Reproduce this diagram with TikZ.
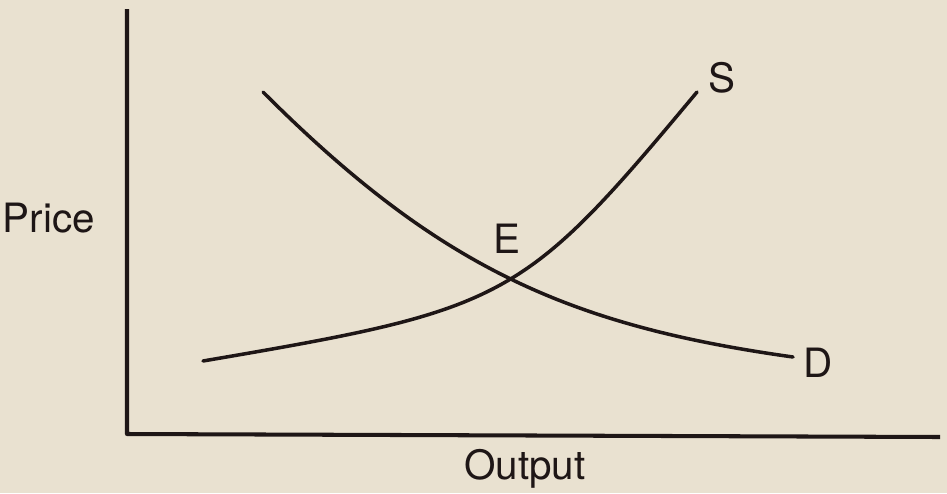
\documentclass[tikz,border=0pt]{standalone}
\usepackage{fontspec}
\setmainfont{TeX Gyre Heros}
\usepackage{tikz}
\usetikzlibrary{positioning}
\definecolor{paper}{RGB}{233,225,208}
\definecolor{ink}{RGB}{30,22,22}
\tikzset{
  curve/.style={draw=ink,line width=2pt,line cap=round},
  axis/.style={draw=ink,line width=2.3pt},
  lbl/.style={font=\fontsize{23}{27}\selectfont,text=ink,inner sep=0pt,anchor=base}
}

\begin{document}
\begin{tikzpicture}[line join=round]
\fill[paper] (0,0) rectangle (18.94,9.86);
\useasboundingbox (0,0) rectangle (18.94,9.86);
% axes
\coordinate (top) at (2.54,9.68);
\coordinate (orig) at (2.54,1.18);
\coordinate (right) at (18.80,1.12);
\draw[axis] (top) -- (orig) -- (right);
% supply and demand
\coordinate (s0) at (4.06,2.64);
\coordinate (s1) at (13.94,8.02);
\coordinate (d0) at (5.26,8.02);
\coordinate (d1) at (15.86,2.72);
\draw[curve] (s0) .. controls (10.16,3.68) and (10.44,3.82) .. (s1);
\draw[curve] (d0) .. controls (8.76,4.52) and (11.36,3.35) .. (d1);
% labels
\node[lbl] (labS) at (14.44,8.02) {S};
\node[lbl] (labE) at (10.14,4.80) {E};
\node[lbl] (labD) at (16.36,2.32) {D};
\node[lbl] (price) at (0.98,5.22) {Price};
\node[lbl] (output) at (10.50,0.28) {Output};
\end{tikzpicture}
\end{document}
